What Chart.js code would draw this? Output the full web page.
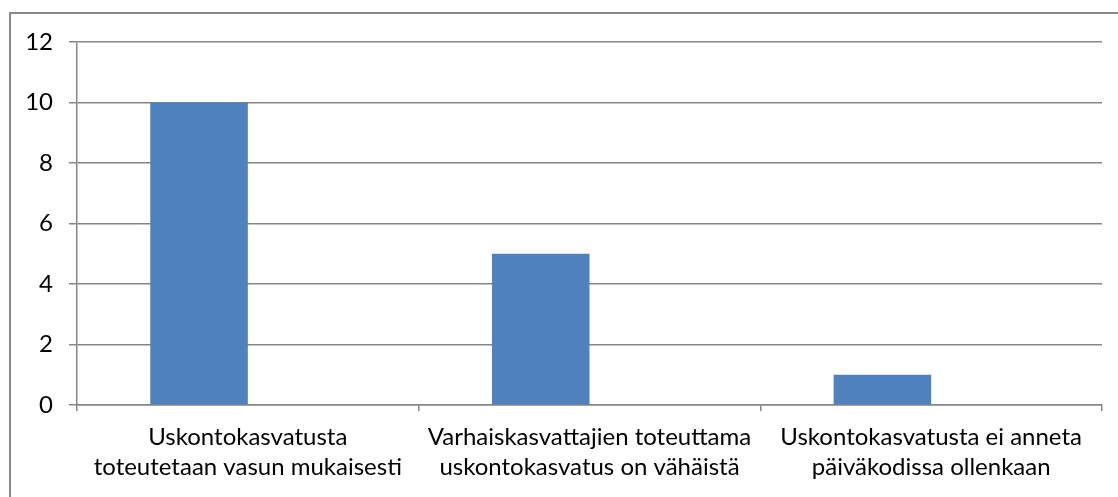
<!DOCTYPE html>
<html>
<head>
<meta charset="utf-8">
<script src="https://cdn.jsdelivr.net/npm/chart.js@4/dist/chart.umd.min.js"></script>
<style>
  html, body { margin: 0; padding: 0; background: #fff; overflow: hidden; }
  #wrap { position: relative; width: 1118px; height: 497px; }
  #frame { position: absolute; left: 9px; top: 12px; width: 1200px; height: 600px;
           border: 2px solid #8a8a8a; box-sizing: border-box; }
  canvas { position: absolute; left: 0; top: 0; }
</style>
</head>
<body>
<div id="wrap">
  <div id="frame"></div>
  <canvas id="chart" width="1118" height="497"></canvas>
</div>
<script>
// 軸ラベルとデータ
const categories = [
    ["Uskontokasvatusta", "toteutetaan vasun mukaisesti"],
    ["Varhaiskasvattajien toteuttama", "uskontokasvatus on vähäistä"],
    ["Uskontokasvatusta ei anneta", "päiväkodissa ollenkaan"]
];
const series1 = [10, 5, 1];
const series2 = [null, null, null];   // 空の系列 (Excelの2本目)
const yTicks = [0, 2, 4, 6, 8, 10, 12];

const fontFamily = "Lato, 'Open Sans', 'DejaVu Sans', sans-serif";
const gridColor = "#868686";

const ctx = document.querySelector("#chart").getContext("2d");

new Chart(ctx, {
    type: "bar",
    data: {
        labels: categories,
        datasets: [
            {
                data: series1,
                backgroundColor: "#4f81bd",
                categoryPercentage: 0.571,
                barPercentage: 1.0,
            },
            {
                data: series2,
                backgroundColor: "#c0504d",
                categoryPercentage: 0.571,
                barPercentage: 1.0,
            },
        ],
    },
    options: {
        responsive: false,
        animation: false,
        layout: { padding: { left: 0, top: 42, right: 16, bottom: 0 } },
        plugins: {
            legend: { display: false },
            tooltip: { enabled: false },
        },
        scales: {
            x: {
                offset: true,
                grid: {
                    offset: true,
                    drawOnChartArea: false,
                    drawTicks: true,
                    tickLength: 6,
                    color: gridColor,
                    lineWidth: 1.5,
                },
                border: { color: gridColor, width: 1.5 },
                ticks: {
                    color: "#000",
                    font: { family: fontFamily, size: 24, lineHeight: 1.25 },
                    padding: 11,
                    maxRotation: 0,
                    autoSkip: false,
                },
                afterFit: (scale) => { scale.height = 92; },
            },
            y: {
                min: 0,
                max: 12,
                afterBuildTicks: (scale) => {
                    scale.ticks = yTicks.map((v) => ({ value: v }));
                },
                grid: {
                    color: gridColor,
                    lineWidth: 1.5,
                    tickLength: 8,
                },
                border: { color: gridColor, width: 1.5 },
                ticks: {
                    color: "#000",
                    font: { family: fontFamily, size: 24 },
                    padding: 16,
                },
                afterFit: (scale) => { scale.width = 77; },
            },
        },
    },
});
</script>
</body>
</html>
